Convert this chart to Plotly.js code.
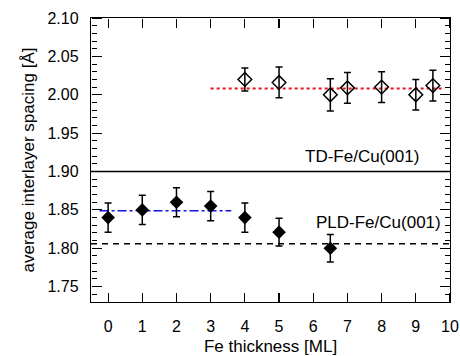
<!DOCTYPE html>
<html><head><meta charset="utf-8">
<script src="https://cdn.plot.ly/plotly-3.0.1.min.js"></script>
<style>html,body{margin:0;padding:0;background:#fff}#c{width:460px;height:356px}</style>
</head><body><div id="c"></div>
<script>
// PLD-Fe/Cu(001) data (filled diamonds)
const pldX = [0, 1, 2, 3, 4, 5, 6.5];
const pldY = [1.840, 1.850, 1.860, 1.855, 1.840, 1.821, 1.800];
const pldErr = [0.019, 0.019, 0.019, 0.019, 0.019, 0.018, 0.018];
// TD-Fe/Cu(001) data (open diamonds)
const tdX = [4, 5, 6.5, 7, 8, 9, 9.5];
const tdY = [2.020, 2.016, 2.000, 2.009, 2.010, 2.000, 2.012];
const tdErr = [0.015, 0.020, 0.021, 0.020, 0.020, 0.020, 0.020];
// reference / fit lines
const tdRefX = [-0.5, 10], tdRefY = [1.90, 1.90];
const pldRefX = [-0.5, 10], pldRefY = [1.806, 1.806];
const pldFitX = [-0.25, 3.6], pldFitY = [1.849, 1.849];
const tdFitX = [3.0, 9.85], tdFitY = [2.008, 2.008];
// axis settings
const xRange = [-0.5, 10], yRange = [1.73, 2.10];
const xTickStart = 0, xTickStep = 1;
const yTickStart = 1.75, yTickStep = 0.05, yMinorStep = 0.01;

const F = 'Liberation Sans, Arial, Helvetica, sans-serif';
const traces = [
  {x: tdRefX, y: tdRefY, mode:'lines', line:{color:'#000', width:1.5}},
  {x: pldRefX, y: pldRefY, mode:'lines', line:{color:'#000', width:1.5, dash:'6px,5px'}},
  {x: pldFitX, y: pldFitY, mode:'lines', line:{color:'#1010e0', width:1.5, dash:'dashdot'}},
  {x: tdFitX, y: tdFitY, mode:'lines', line:{color:'#e8101a', width:2, dash:'dot'}},
  {x: pldX, y: pldY, mode:'markers', marker:{symbol:'diamond', size:10.5, color:'#000'},
   error_y:{type:'data', array: pldErr, color:'#000', thickness:1.5, width:3.5}},
  {x: tdX, y: tdY, mode:'markers', marker:{symbol:'diamond-open', size:10.5, color:'#000', line:{width:1.5, color:'#000'}},
   error_y:{type:'data', array: tdErr, color:'#000', thickness:1.5, width:3.5}},
  // invisible carriers for the inward-tick axes
  {x: tdRefX, y: tdRefY, xaxis:'x2', yaxis:'y2', mode:'markers', marker:{opacity:0}},
  {x: tdRefX, y: tdRefY, xaxis:'x3', yaxis:'y3', mode:'markers', marker:{opacity:0}}
];
const tickAx = {showgrid:false, zeroline:false, showline:false, showticklabels:false, ticks:'outside', tickcolor:'#000', tickwidth:1.2};
const layout = {
  width:460, height:356, showlegend:false,
  margin:{l:91, r:10, t:18, b:54},
  paper_bgcolor:'#fff', plot_bgcolor:'#fff',
  font:{family:F, size:16, color:'#000'},
  xaxis:{range:xRange, tickmode:'linear', tick0:xTickStart, dtick:xTickStep, ticks:'', ticklabelstandoff:10,
    showline:true, linecolor:'#000', linewidth:1.2, mirror:true, showgrid:false, zeroline:false,
    tickfont:{family:F, size:16}, title:{text:'Fe thickness [ML]', font:{family:F, size:17}, standoff:6}},
  yaxis:{range:yRange, tickmode:'linear', tick0:yTickStart, dtick:yTickStep, tickformat:'.2f', ticks:'', ticklabelstandoff:8,
    showline:true, linecolor:'#000', linewidth:1.2, mirror:true, showgrid:false, zeroline:false,
    tickfont:{family:F, size:16}, title:{text:'average interlayer spacing [Å]', font:{family:F, size:17}, standoff:8}},
  xaxis2:Object.assign({}, tickAx, {overlaying:'x', anchor:'free', position:0, side:'top', range:xRange, tickmode:'linear', tick0:xTickStart, dtick:xTickStep, ticklen:9}),
  xaxis3:Object.assign({}, tickAx, {overlaying:'x', anchor:'free', position:1, side:'bottom', range:xRange, tickmode:'linear', tick0:xTickStart, dtick:xTickStep, ticklen:9}),
  yaxis2:Object.assign({}, tickAx, {overlaying:'y', anchor:'free', position:0, side:'right', range:yRange, tickmode:'linear', tick0:yTickStart, dtick:yTickStep, ticklen:10,
    minor:{dtick:yMinorStep, ticks:'outside', ticklen:5, tickwidth:1, tickcolor:'#000', showgrid:false}}),
  yaxis3:Object.assign({}, tickAx, {overlaying:'y', anchor:'free', position:1, side:'left', range:yRange, tickmode:'linear', tick0:yTickStart, dtick:yTickStep, ticklen:10,
    minor:{dtick:yMinorStep, ticks:'outside', ticklen:5, tickwidth:1, tickcolor:'#000', showgrid:false}}),
  annotations:[
    {x:9.15, y:1.92, xref:'x', yref:'y', text:'TD-Fe/Cu(001)', showarrow:false, xanchor:'right', yanchor:'middle', font:{family:F, size:17}},
    {x:9.8, y:1.833, xref:'x', yref:'y', text:'PLD-Fe/Cu(001)', showarrow:false, xanchor:'right', yanchor:'middle', font:{family:F, size:17}}
  ]
};
Plotly.newPlot('c', traces, layout, {staticPlot:true});
</script></body></html>
